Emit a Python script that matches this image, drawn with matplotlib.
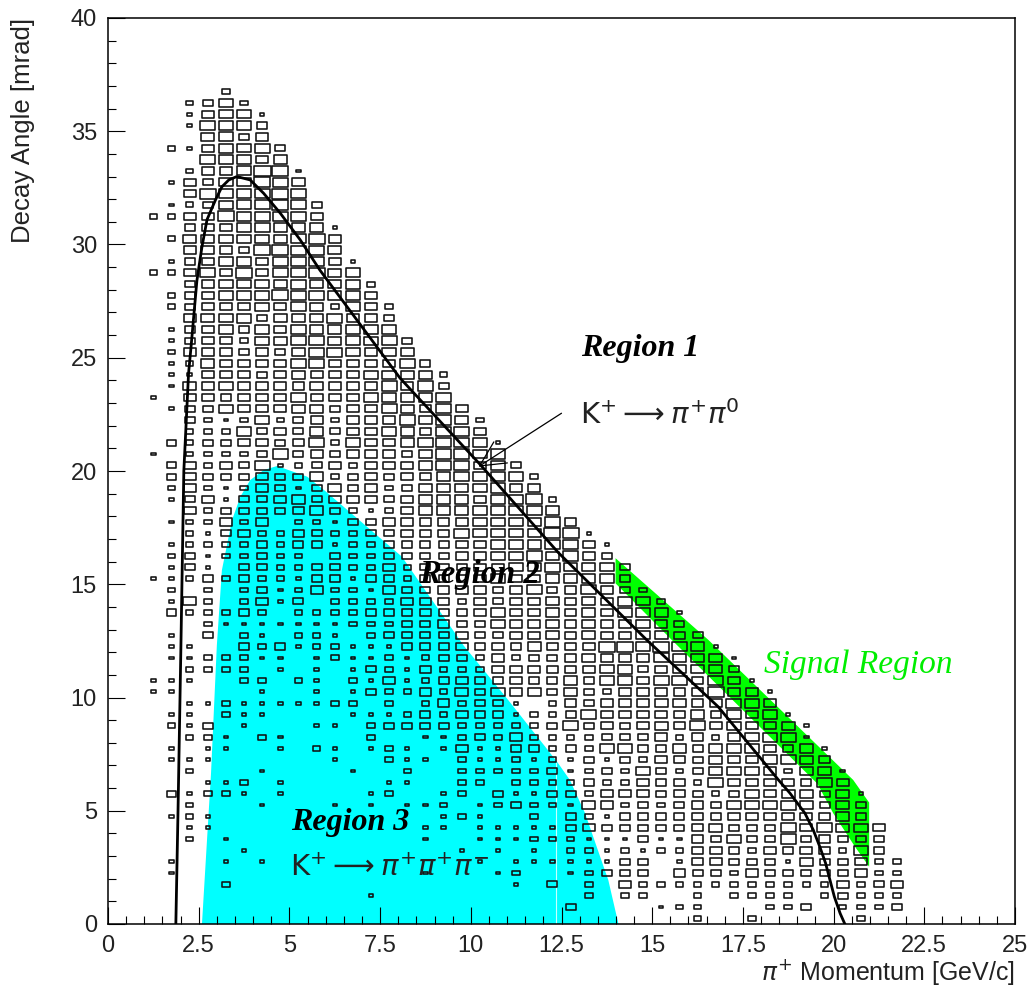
import numpy as np
import matplotlib
matplotlib.use("Agg")
import matplotlib.pyplot as plt
from matplotlib.patches import Rectangle, Polygon
from matplotlib.collections import PatchCollection

# ---------------- data ----------------
# 2D histogram (box representation): bins 0.5 GeV x 0.5 mrad.
# Each row string: columns for p = 1.25 ... 21.75 GeV (bin centres),
# rows from theta = 36.75 (top) down to 0.25 mrad. '.' = empty, digit = box size level.
x_first_center = 1.25
y_top_center = 36.75
bin_w = 0.5
bin_h = 0.5

hist_rows = [
    "....2..... .......... .......... .......... ..",  # 36.75
    "..2352.... .......... .......... .......... ..",
    "..14551... .......... .......... .......... ..",
    "..16553... .......... .......... .......... ..",
    "...5634... .......... .......... .......... ..",
    ".2146563.. .......... .......... .......... ..",
    "...66545.. .......... .......... .......... ..",
    "..2446871. .......... .......... .......... ..",
    ".14355765. .......... .......... .......... ..",
    "..4755676. .......... .......... .......... ..",
    ".123566763 .......... .......... .......... ..",
    "2244766664 .......... .......... .......... ..",
    "..34456555 1......... .......... .......... ..",
    ".255555567 4......... .......... .......... ..",
    "..45437766 5......... .......... .......... ..",
    ".134564666 41........ .......... .......... ..",
    "2246474667 56........ .......... .......... ..",
    "..34555565 562....... .......... .......... ..",
    ".234555766 564....... .......... .......... ..",
    ".234445465 2642...... .......... .......... ..",
    "..45563555 6443...... .......... .......... ..",
    ".134635465 5565...... .......... .......... ..",
    ".134425566 56563..... .......... .......... ..",
    ".244434356 65455..... .......... .......... ..",
    ".125444466 444463.... .......... .......... ..",
    ".114443454 4455552... .......... .......... ..",  # 24.25
    ".154544445 4446463... .......... .......... ..",
    "1.44344464 4455556... .......... .......... ..",
    ".133544455 34465464.. .......... .......... ..",
    "..32125234 244465652. .......... .......... ..",
    "..22253435 344554664. .......... .......... ..",
    ".323344346 2544566661 .......... .......... ..",
    "1.22223634 3444356656 .......... .......... ..",
    ".342436123 4244456646 3......... .......... ..",
    ".343334335 2343445655 62........ .......... ..",
    ".242124313 5342355556 44........ .......... ..",
    ".134133453 4443455546 572....... .......... ..",
    "..42333345 3212455555 565....... .......... ..",
    ".122424.22 1334444455 5564...... .......... ..",
    "..21342243 2233444655 55771..... .......... ..",
    ".122223233 1223333445 556641.... .......... ..",
    ".23122322. 3223333445 565643.... .......... ..",
    ".131.33223 3224233344 5565553... .......... ..",
    "1123232213 3133233345 4455553... .......... ..",
    ".2.2.23124 2214334443 46346432.. .......... ..",
    ".152.2413. 2222444243 445454652. .......... ..",
    ".322232.22 2233343345 4454546551 .......... ..",
    "...2111111 1222334335 4454544543 .......... ..",
    ".1.3.21.22 1.23333433 4454544554 3......... ..",
    ".11..32312 2111333434 3544477576 51........ ..",  # 12.25
    ".1122211.1 2112123324 2334544465 551....... ..",
    "..2222.1.1 .132142224 4444456345 553....... ..",
    "111..22.21 .214123433 4335355466 4641...... ..",
    "11....1..1 .132242535 4535324444 47441..... ..",
    "..11211111 22.2.24233 1.24344455 44664..... ..",
    ".11.211... .111232433 1223644444 535461.... ..",
    ".213.1...1 1.23333222 2236343454 6454451... ..",
    "..221.21.. ..2..11232 4222233342 4245661... ..",
    ".1.11..1.2 1.121.1411 3323255335 35554351.. ..",
    ".111...... 1..211.211 2121313244 35446654.. ..",
    "..2...1... .1..2..222 2231232532 355542551. ..",
    "...112.1.. ...11..22. 2222322434 264444364. ..",
    ".31221.1.. ..12..12.3 1133244434 3235455351 ..",
    "..2...1... 1.1.112.12 3221542323 4355565353 ..",
    ".121...... ......121. .2.3213333 4344444453 ..",
    "..11...... .....11.11 1113433333 4533364655 4.",
    "..2.1..... .....1..11 1222111311 4353363433 3.",
    ".....1.... .......1.1 .1.2212122 4432434425 3.",
    ".1..1.1... ........1. 11111133.1 4433315334 22",
    ".1........ .....1...1 2..12333.4 3324333334 22",
    "....2..... .......... 1.3.2.4222 2222222242 34",
    ".......... ..1....... ....2.22.. 2.2222.232 22",
    ".......... .......... ...3....12 2...223.22 23",
    ".......... .......... .......... 2..2.....2 ..",  # 0.25
]

# box side as a fraction of the bin, for each size level 0..9
level_fraction = [0.0, 0.24, 0.42, 0.55, 0.65, 0.74, 0.81, 0.88, 0.92, 0.95]

# K+ -> pi+ pi0 kinematic curve
curve_p = [1.87, 1.93, 2.01, 2.09, 2.22, 2.29, 2.45, 2.59, 2.73, 2.96, 3.14, 3.33,
           3.55, 3.92, 4.29, 4.75, 5.30, 5.84, 8.05, 10.25, 12.41, 14.85, 16.82,
           18.48, 18.80, 19.21, 19.44, 19.62, 19.78, 19.90, 20.02, 20.18, 20.31]
curve_theta = [0.0, 5.0, 12.3, 20.0, 24.3, 25.5, 28.4, 29.9, 31.1, 31.96, 32.55, 32.85,
               33.0, 32.85, 32.26, 31.38, 30.2, 28.87, 24.1, 20.3, 16.4, 12.54, 9.59,
               6.36, 5.77, 4.89, 4.15, 3.41, 2.68, 1.94, 1.21, 0.47, 0.0]

# Region 3 (K+ -> pi+ pi+ pi-) filled area outline
region3_p = [2.59, 2.84, 3.00, 3.14, 3.42, 3.65, 3.92, 4.29, 4.66, 5.49, 6.00, 8.10,
             9.80, 11.03, 12.05, 12.41, 12.73, 13.15, 13.47, 13.79, 14.07]
region3_theta = [0.0, 6.67, 12.3, 15.63, 17.84, 18.87, 19.6, 20.04, 20.22, 19.75, 19.1,
                 16.22, 12.3, 9.89, 7.83, 7.09, 6.36, 4.89, 3.41, 1.94, 0.0]

# Signal region outline
signal_p = [13.99, 16.55, 20.54, 20.98, 20.98, 20.59, 19.99, 19.55, 15.54, 13.99]
signal_theta = [16.15, 12.54, 6.36, 5.36, 2.53, 3.41, 4.89, 6.2, 12.54, 15.04]

x_ticks = [0, 2.5, 5, 7.5, 10, 12.5, 15, 17.5, 20, 22.5, 25]
x_tick_labels = ["0", "2.5", "5", "7.5", "10", "12.5", "15", "17.5", "20", "22.5", "25"]
y_ticks = [0, 5, 10, 15, 20, 25, 30, 35, 40]
y_tick_labels = ["0", "5", "10", "15", "20", "25", "30", "35", "40"]

# ---------------- figure ----------------
plt.rcParams["mathtext.fontset"] = "dejavusans"
fig = plt.figure(figsize=(10.31, 9.91), dpi=100)
ax = fig.add_axes([108 / 1031, 1 - 924 / 991, 907 / 1031, 906 / 991])
ax.set_xlim(0, 25)
ax.set_ylim(0, 40)

# filled regions
ax.add_patch(Polygon(np.column_stack([region3_p, region3_theta]), closed=True,
                     facecolor="#00ffff", edgecolor="none", zorder=1))
ax.plot([12.36, 12.36], [0.0, 7.1], color="#c8ffff", lw=0.8, zorder=1.5)
ax.add_patch(Polygon(np.column_stack([signal_p, signal_theta]), closed=True,
                     facecolor="#00ff00", edgecolor="none", zorder=1))

# boxes
rects = []
for r, row in enumerate(hist_rows):
    cells = row.replace(" ", "")
    yc = y_top_center - r * bin_h
    for c, ch in enumerate(cells):
        if ch == ".":
            continue
        frac = level_fraction[int(ch)]
        w = frac * bin_w
        h = frac * bin_h
        xc = x_first_center + c * bin_w
        rects.append(Rectangle((xc - w / 2, yc - h / 2), w, h))
ax.add_collection(PatchCollection(rects, facecolor="none", edgecolor="#111111",
                                  linewidth=1.15, zorder=3))

# kinematic curve
ax.plot(curve_p, curve_theta, color="black", lw=2.0, zorder=4,
        solid_joinstyle="round")

# texts
serif_bi = dict(family="Liberation Serif", style="italic", weight="bold")
ax.text(14.66, 25.43, "Region 1", fontsize=23, ha="center", va="center", zorder=5, **serif_bi)
ax.text(10.25, 15.41, "Region 2", fontsize=23.5, ha="center", va="center", zorder=5, **serif_bi)
ax.text(6.67, 4.46, "Region 3", fontsize=23, ha="center", va="center", zorder=5, **serif_bi)
ax.text(20.67, 11.43, "Signal Region", fontsize=24, ha="center", va="center", zorder=5,
        family="Liberation Serif", style="italic", color="#00ee00")
ax.text(13.0, 22.47, r"K$^{+}\longrightarrow\pi^{+}\pi^{0}$", fontsize=21, ha="left",
        va="center", zorder=5, color="#222222")
ax.text(5.02, 2.47, r"K$^{+}\longrightarrow\pi^{+}\pi^{+}\pi^{-}$", fontsize=21, ha="left",
        va="center", zorder=5, color="#222222")
ax.annotate("", xy=(10.21, 20.19), xytext=(12.5, 22.55),
            arrowprops=dict(arrowstyle="->,head_length=1.8,head_width=0.9",
                            color="black", lw=0.9, shrinkA=0, shrinkB=0),
            zorder=5)

# axes styling
for s in ax.spines.values():
    s.set_linewidth(1.1)
ax.set_xticks(x_ticks)
ax.set_xticklabels(x_tick_labels)
ax.set_yticks(y_ticks)
ax.set_yticklabels(y_tick_labels)
ax.set_xticks(np.arange(0, 25.01, 0.5), minor=True)
ax.set_yticks(np.arange(0, 40.01, 1), minor=True)
ax.tick_params(which="both", direction="in", top=False, right=False, width=0.8)
ax.tick_params(which="major", length=12, labelsize=17, pad=8)
ax.tick_params(which="minor", length=6)
for lab in ax.get_xticklabels() + ax.get_yticklabels():
    lab.set_family("Liberation Sans")
    lab.set_color("#222222")

ax.set_xlabel(r"$\pi^{+}$ Momentum [GeV/c]", fontsize=18, family="Liberation Sans",
              color="#222222", loc="right")
ax.xaxis.set_label_coords(1.0, -0.036)
ax.set_ylabel("Decay Angle [mrad]", fontsize=18.5, family="Liberation Sans",
              color="#222222", loc="top")
ax.yaxis.set_label_coords(-0.080, 1.0)

fig.savefig("out.png", dpi=100)
